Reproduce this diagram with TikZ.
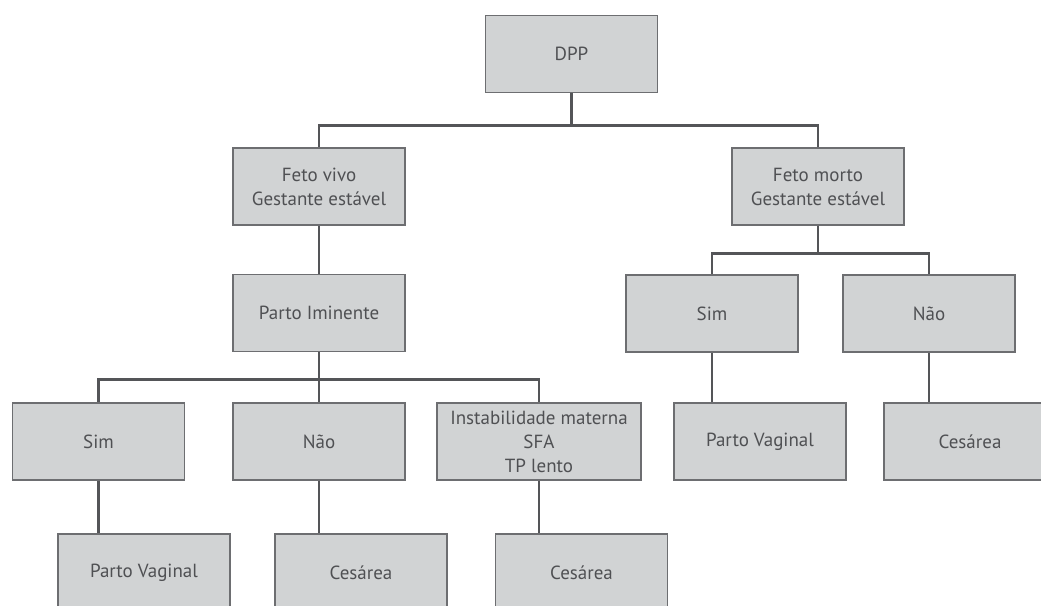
\documentclass[tikz,border=0pt]{standalone}
\usepackage{fontspec}
\setmainfont{PT Sans}
\usetikzlibrary{shapes}
\definecolor{boxFill}{HTML}{D1D3D4}
\definecolor{boxLine}{HTML}{6D6E71}
\definecolor{boxText}{HTML}{4F5053}
\definecolor{edgeLine}{HTML}{545558}

\begin{document}
\begin{tikzpicture}[x = 1pt, y = -1pt]
	\tikzstyle{boxStyle} = [shape = rectangle, draw = boxLine, fill = boxFill, line width = 1.6pt, minimum width = 172pt, minimum height = 77pt, inner sep = 2pt, align = center, text = boxText, font = \fontsize{19}{24}\selectfont]
	\tikzstyle{wideStyle} = [boxStyle, minimum width = 204pt]
	\tikzstyle{EdgeStyle} = [draw = edgeLine, line width = 2.8pt]
	\clip (0, 0) rectangle (1041, 605);
	\node[boxStyle] (v0) at (571.5, 54) {DPP};
	\node[boxStyle] (v1) at (319, 186.5) {Feto vivo\\Gestante estável};
	\node[boxStyle] (v2) at (818, 186.5) {Feto morto\\Gestante estável};
	\node[boxStyle] (v3) at (319, 313) {Parto Iminente};
	\node[boxStyle] (v4) at (712, 313.5) {Sim};
	\node[boxStyle] (v5) at (929, 313.5) {Não};
	\node[boxStyle] (v6) at (98.5, 441.5) {Sim};
	\node[boxStyle] (v7) at (319, 441.5) {Não};
	\node[wideStyle] (v8) at (539, 441.5) {Instabilidade materna\\SFA\\TP lento};
	\node[boxStyle] (v9) at (760, 441.5) {Parto Vaginal};
	\node[boxStyle] (v10) at (970, 441.5) {Cesárea};
	\node[boxStyle] (v11) at (144, 572.5) {Parto Vaginal};
	\node[boxStyle] (v12) at (361, 572.5) {Cesárea};
	\node[boxStyle] (v13) at (581.5, 572.5) {Cesárea};
	\draw[EdgeStyle] (v0.south) -- ++(0, 32) -| (v1.north);
	\draw[EdgeStyle] (v0.south) -- ++(0, 32) -| (v2.north);
	\draw[EdgeStyle] (v1.south) -- (v3.north);
	\draw[EdgeStyle] (v2.south) -- ++(0, 28) -| (v4.north);
	\draw[EdgeStyle] (v2.south) -- ++(0, 28) -| (v5.north);
	\draw[EdgeStyle] (v3.south) -- ++(0, 27) -| (v6.north);
	\draw[EdgeStyle] (v3.south) -- ++(0, 27) -| (v7.north);
	\draw[EdgeStyle] (v3.south) -- ++(0, 27) -| (v8.north);
	\draw[EdgeStyle] (v4.south) -- (v4.south |- v9.north);
	\draw[EdgeStyle] (v5.south) -- (v5.south |- v10.north);
	\draw[EdgeStyle] (v6.south) -- (v6.south |- v11.north);
	\draw[EdgeStyle] (v7.south) -- (v7.south |- v12.north);
	\draw[EdgeStyle] (v8.south) -- (v8.south |- v13.north);
	\end{tikzpicture}
\end{document}
